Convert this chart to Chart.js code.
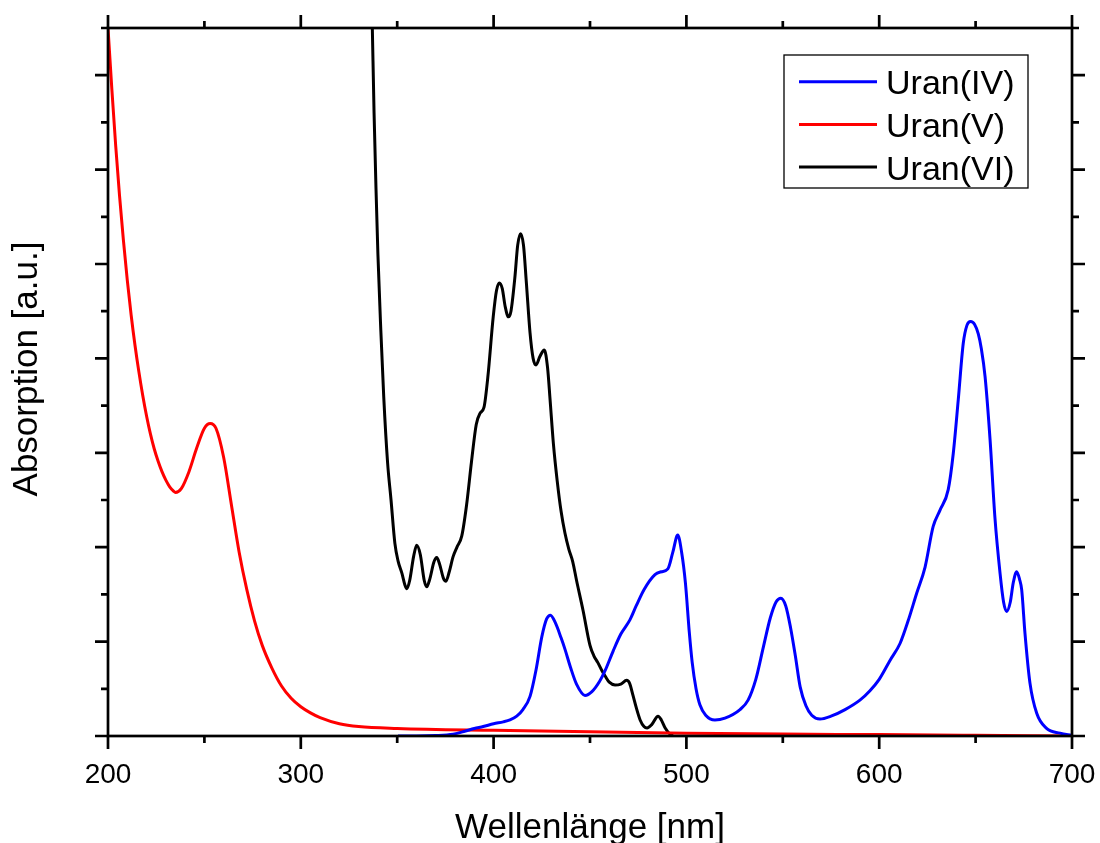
<!DOCTYPE html>
<html><head><meta charset="utf-8">
<script src="https://cdn.jsdelivr.net/npm/chart.js@4.4.1/dist/chart.umd.min.js"></script>
<style>html,body{margin:0;padding:0;background:#fff;overflow:hidden}#wrap{width:1100px;height:843px}</style>
</head><body><div id="wrap"><canvas id="c" width="1100" height="843"></canvas></div>
<script>
// ---- data (wavelength in nm, absorption in a.u.) ----
const seriesNames = ['Uran(IV)', 'Uran(V)', 'Uran(VI)'];
const uran4X = [350.4,360,370,379,385,390,394.6,400,405,408.5,412,415.2,418.9,422,425,427.5,429.5,432,435,437,440,443,447.4,451,455,458,462,466,470.7,474,478,483.7,487,490.4,493,495.5,497.5,499.5,501.5,503,505,507,510,514.8,520,527.8,532,536,540,543.5,546.5,549,551.5,554,556.5,559,562,565,569.3,575,582.3,590,595.2,600,605.6,610.8,615,619.4,623.8,628,631.5,635.8,638.4,641,643.6,645.5,647.4,649.5,651.4,653,654.9,657.5,660,662.7,664.5,666.1,668,669.5,671.3,672.8,673.9,675.6,678.2,681.7,686.8,693.8,700];
const uran4Y = [0,0,0.005,0.02,0.05,0.08,0.10,0.13,0.15,0.17,0.21,0.28,0.42,0.7,1.05,1.24,1.28,1.2,1.04,0.92,0.72,0.55,0.43,0.47,0.58,0.70,0.9,1.08,1.23,1.38,1.55,1.71,1.74,1.77,1.95,2.13,1.95,1.62,1.1,0.78,0.5,0.33,0.22,0.17,0.19,0.28,0.38,0.6,0.95,1.25,1.42,1.46,1.38,1.15,0.85,0.52,0.32,0.22,0.18,0.21,0.28,0.38,0.48,0.6,0.80,0.98,1.22,1.51,1.79,2.22,2.39,2.61,2.99,3.56,4.16,4.35,4.39,4.36,4.26,4.1,3.81,3.14,2.32,1.72,1.42,1.32,1.42,1.62,1.74,1.66,1.55,1.09,0.56,0.24,0.08,0.03,0.005];
const uran5X = [200,202,204,206,208,210,212,214,216,218,220,222,224,226,228,230,232,234,235,238,242,246,250,253,256,260,264,268,272,276,280,285,290,295,300,305,310,320,330,350,400,450,500,550,600,650,700];
const uran5Y = [7.5,6.85,6.25,5.72,5.25,4.83,4.46,4.14,3.86,3.61,3.39,3.2,3.04,2.91,2.8,2.71,2.64,2.595,2.58,2.62,2.8,3.05,3.26,3.31,3.26,2.95,2.45,1.95,1.55,1.22,0.96,0.72,0.53,0.40,0.31,0.245,0.195,0.13,0.1,0.08,0.06,0.045,0.03,0.02,0.015,0.008,0];
const uran6X = [336,337,338,339,340,341.5,343,345,346.8,348.8,350.5,352.5,354,355,356.5,358.5,360.1,362,364,365.3,367,369,370.5,372,374,375.3,377,379,381,383.5,386,388.5,391,393,395,397,399.8,401.5,403,404.5,406,407.7,409,411,412.5,414,415.5,417,418.9,420.5,422,424,426.3,428,429.3,431,433,435,437,439,441,443,446.4,450,452,454,456,458,460,463,466,469,470.5,472.3,474,476,478,479.6,482,485.3,487,489,491.5,493];
const uran6Y = [8.5,7.6,6.6,5.8,5.1,4.3,3.6,2.9,2.5,2.04,1.85,1.72,1.6,1.56,1.65,1.9,2.02,1.92,1.65,1.58,1.67,1.84,1.89,1.82,1.67,1.64,1.74,1.9,2.0,2.12,2.45,2.9,3.3,3.42,3.48,3.8,4.44,4.72,4.8,4.74,4.55,4.44,4.5,4.85,5.2,5.32,5.2,4.8,4.27,4.0,3.93,4.02,4.09,3.9,3.56,3.1,2.7,2.38,2.15,1.98,1.85,1.65,1.33,0.96,0.85,0.78,0.7,0.63,0.57,0.54,0.55,0.59,0.56,0.43,0.3,0.17,0.1,0.085,0.12,0.21,0.17,0.085,0.02,0.005];
const xTickLabels = [200,300,400,500,600,700];
const xMinorTicks = [250,350,450,550,650];
const yMajorTicks = [0,1,2,3,4,5,6,7];
const yMinorTicks = [0.5,1.5,2.5,3.5,4.5,5.5,6.5,7.5];
const xTitle = 'Wellenlänge [nm]';
const yTitle = 'Absorption [a.u.]';
const seriesColors = ['#0000ff', '#ff0000', '#000000'];

function pts(xs, ys){ return xs.map((x,i)=>({x:x, y:ys[i]})); }

const FONT = '"Liberation Sans", Arial, sans-serif';

const decor = {
  id: 'decor',
  afterDatasetsDraw(chart){
    const ctx = chart.ctx, a = chart.chartArea;
    const xs = chart.scales.x, ys = chart.scales.y;
    const MAJ = 13, MIN = 7;
    ctx.save();
    ctx.strokeStyle = '#000'; ctx.lineWidth = 2.7; ctx.lineCap = 'butt';
    ctx.strokeRect(a.left, a.top, a.right - a.left, a.bottom - a.top);
    ctx.beginPath();
    const xt = (v, L) => { const p = xs.getPixelForValue(v);
      ctx.moveTo(p, a.bottom); ctx.lineTo(p, a.bottom + L);
      ctx.moveTo(p, a.top); ctx.lineTo(p, a.top - L); };
    const yt = (v, L) => { const p = ys.getPixelForValue(v);
      ctx.moveTo(a.left, p); ctx.lineTo(a.left - L, p);
      ctx.moveTo(a.right, p); ctx.lineTo(a.right + L, p); };
    xTickLabels.forEach(v => xt(v, MAJ));
    xMinorTicks.forEach(v => xt(v, MIN));
    yMajorTicks.forEach(v => yt(v, MAJ));
    yMinorTicks.forEach(v => yt(v, MIN));
    ctx.stroke();
    // tick labels
    ctx.fillStyle = '#000';
    ctx.font = '28px ' + FONT;
    ctx.textAlign = 'center'; ctx.textBaseline = 'alphabetic';
    xTickLabels.forEach(v => ctx.fillText(String(v), xs.getPixelForValue(v), 783));
    // axis titles
    ctx.font = '35px ' + FONT;
    ctx.fillText(xTitle, (a.left + a.right) / 2, 838);
    ctx.save();
    ctx.translate(37, 369);
    ctx.rotate(-Math.PI / 2);
    ctx.fillText(yTitle, 0, 0);
    ctx.restore();
    // legend
    ctx.fillStyle = '#fff';
    ctx.fillRect(784, 55, 244, 133);
    ctx.lineWidth = 1.3; ctx.strokeStyle = '#000';
    ctx.strokeRect(784, 55, 244, 133);
    ctx.font = '34px ' + FONT; ctx.textAlign = 'left';
    seriesNames.forEach((n, i) => {
      const ly = 81.7 + i * 42.7;
      ctx.strokeStyle = seriesColors[i]; ctx.lineWidth = 3;
      ctx.beginPath(); ctx.moveTo(799, ly); ctx.lineTo(877, ly); ctx.stroke();
      ctx.fillStyle = '#000';
      ctx.fillText(n, 886, ly + 12.5);
    });
    ctx.restore();
  }
};

new Chart(document.getElementById('c'), {
  type: 'line',
  data: {
    datasets: [
      { label: seriesNames[0], data: pts(uran4X, uran4Y), borderColor: seriesColors[0] },
      { label: seriesNames[1], data: pts(uran5X, uran5Y), borderColor: seriesColors[1] },
      { label: seriesNames[2], data: pts(uran6X, uran6Y), borderColor: seriesColors[2] }
    ]
  },
  options: {
    responsive: false,
    animation: false,
    events: [],
    layout: { padding: { left: 108, right: 28, top: 28, bottom: 107 } },
    elements: {
      point: { radius: 0 },
      line: { borderWidth: 3, cubicInterpolationMode: 'monotone', fill: false }
    },
    scales: {
      x: { type: 'linear', min: 200, max: 700, display: false },
      y: { type: 'linear', min: 0, max: 7.5, display: false }
    },
    plugins: { legend: { display: false }, tooltip: { enabled: false }, title: { display: false } }
  },
  plugins: [decor]
});
</script>
</body></html>
